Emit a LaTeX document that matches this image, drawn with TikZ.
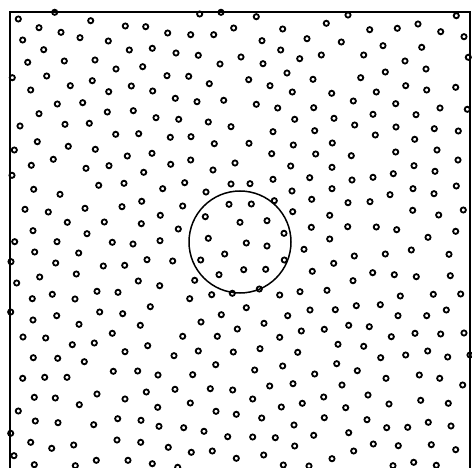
\documentclass[tikz,border=0pt]{standalone}
\tikzset{
  grain/.style={line width=1.8pt},
  frame/.style={line width=2pt},
  probe/.style={draw, circle, line width=1.5pt, minimum size=102pt, inner sep=0pt}
}
\begin{document}
\begin{tikzpicture}[x=1pt,y=-1pt]
\useasboundingbox (0,0) rectangle (472,468);
\draw[frame] (9.5,468) -- (9.5,11.7) -- (469.5,11.7) -- (469.5,468);
\foreach \x/\y in {
  18.3/19,39/27.7,61/32.3,80/37.7,90.7/20.7,125.3/26,145.7/26.7,22.7/40,43.7/49.7,108.3/41,
  129.3/50,152.3/48.3,27.7/62.3,64.3/61,95/60,116/69,142.7/66.7,12.3/77.7,46.7/76,70.3/85.7,
  92.3/80.7,30.7/90,108.7/91.7,131.3/86,152.7/91,57.3/104,82.7/102.7,39/113.7,107.3/112,133.3/110.7,
  156/117.7,20/126,65/124.3,89.3/123.3,115.7/134.3,138.7/133.7,37.3/141.7,68.3/146.3,95.3/149.3,14.3/150,
  53.3/159.3,127.3/156,152/153.3,54.7/12.3,
  348/15,326.3/23.3,369.7/29.7,397.3/28.3,418/24,440.7/31.7,456.3/15.7,464/36.7,341.3/42,383/45.7,
  421.7/47.3,321.3/55,363.7/55,405/61,468.3/57.3,385.3/72,426/69,313/79.3,360.7/77.7,405.7/85.7,
  426.7/90,455.7/87.3,331.7/93.3,376.3/92,353.3/101,395.7/103.7,313.7/107.7,440/108,467.3/109.3,334/118.3,
  373/114.3,416/114.7,354.7/125,396/127,314.7/130.7,434.3/128.7,458.3/131,332.3/143,375.3/135,414.7/139.3,
  315.7/154,351.3/155.7,395.7/152,437/150,458/160,
  199.7/14,221/12.3,256.3/16.7,167.7/33,190.7/34.7,213.7/34.7,233.7/28,262/40.7,282.7/29,307/38.7,
  176/53,198.3/55.3,220/64,241/57,263/63.7,280.7/50,299.7/58.7,167/75.7,188.7/76.3,209.3/83.7,
  248.7/79.7,270/85.7,287/73,292.3/92,175.3/98.3,197/101.7,223.7/100.3,256.3/104.3,277.7/108,178.7/119.3,
  208.3/122,231/126.7,294.7/119.3,273/131.7,170.3/137.3,191/136.7,214.3/143.7,249/143.3,293.3/145,271.7/153.7,
  170.7/164.3,190.7/160,235/163,213/170,290.7/166,
  31.3/165.3,86/168.3,109/165.7,143.7/172.3,12/175.3,33.7/189.3,60/194.3,98.7/185.3,124/183.3,162.7/188.7,
  25/209.3,48.3/212,85/208.3,122/206.7,141.7/201.3,160.3/215.3,67.3/222.3,104.3/222,141.3/223.7,33/230.7,
  87/233.7,14.7/241.7,57/241.7,112.3/242.3,133/244,160/240.7,34.7/252,78.7/253,11/261.7,55.7/263,
  103.3/266,124.7/265.3,147/259.7,39.7/277,76.3/274,16.7/283,138.3/281,159.7/285.7,32.3/298.7,52.3/294.3,
  75/299,97/291.3,118/292.3,150.3/306.7,
  184.7/182.7,206/192,231/184,250/183.7,273/179.3,292/191,182.7/206,229/204.3,251.3/204,274.3/200.7,
  292.7/211.7,205.3/216.7,240/222.3,267/220.7,178.3/229,284/233.3,208.3/238.3,246.3/243,267/246,304/249.3,
  224.7/254,172.7/261,200.7/260,284.3/260,243.7/269.7,265.7/269.3,219/274.7,194.7/280.3,300/291.7,189.7/298.7,
  211.7/294.7,232.3/293.3,259.3/289,279.7/295,246.3/307.7,
  332/167.3,414/165.7,309.7/177.7,352/180,373/177.3,393.3/173.7,435/171.3,332/188.7,311.7/199.3,348/202.7,
  370/201.7,390/194.7,413/188.7,434/193.7,456.3/186,329.7/215.3,412.7/210.3,438.7/215,463.3/210,311.3/227.3,
  347.7/226.7,376.3/227,396.7/229.7,329.7/239,428/237.3,455.7/231.3,354.3/256,385.3/254,411.3/250,449/254.3,
  333.7/263.3,312.3/271.3,353/280.7,372.7/272.7,394.3/274.7,416.3/276.7,450.3/275.7,327/290.3,400.3/296,433.3/294.3,
  460.7/294,310/310,356.3/305.7,380.3/304.7,
  10.7/312,33/320,56.7/315.7,99.7/312,122.7/313.7,79/324.3,140.3/325.3,23/337,45.7/338,72.3/344.7,
  94.3/343,112.3/333.3,147.7/345.7,125/351.7,33.3/357.7,57.7/358.3,84.3/361.7,113.3/371.3,137.7/371,158/375,
  22.7/378.3,44.7/377.3,67/377.3,34.3/397.3,55.3/398,97/394,125/399,146.3/392,157.7/407.3,79.3/404.7,
  18.3/411,35.3/421,58/422.7,93.7/424.7,117.7/418.7,141/420.3,159/426.3,10.7/433.3,30.7/442.3,51.7/448.3,
  73.7/445,117/440,140.7/442.3,14/455.7,34.3/464.7,75.3/465.7,96.3/460.3,128/460.3,152.3/463.7,
  221.3/314.7,201/322,237.3/329,264/323.3,287.7/315.7,182.7/336.3,217.3/336.3,279.7/337.3,301.3/331,174/355.7,
  198.3/351,233.3/352,260/348.7,297.7/352.3,215.7/364.7,254.7/370,282.7/366,192.7/374.7,175/389.3,210.3/388.7,
  232.7/390,269.7/386,293/383.7,252.7/399,190.3/403,216/411.3,236.3/414.3,261.7/418,281.3/407,302.3/403.3,
  183.7/427.7,204/431.3,227.7/436.7,252.7/437,275.3/437.7,294/425,168.3/447.3,191.3/452.3,212.3/451,236.3/458.3,
  263.7/455,294.7/446,177.7/467.3,283.3/465,309/466,
  335.3/309.7,398/315.7,426.7/315.7,446.3/310,324.3/329.3,348.7/325.3,369.3/326.7,391.3/336.7,415/333.3,440.7/334,
  464/333,338/344.3,363.7/346.3,380.7/357.7,405.7/355,427.7/351,447.7/357,470/355,336.7/363.7,357.3/370.7,
  314.7/374,386/378.3,419.3/375,439.7/378.3,462.7/385,342/385,323.7/397,368/395,389/404,420.7/400.3,
  448.3/403.3,345.7/407.7,324.3/417.7,367/419.7,386.7/427.7,407.7/427.3,428.3/422.3,451/426,313.7/435.3,348.7/432.7,
  373.3/444,398.3/445.7,431.3/444.7,455.7/449.7,332/458.7,353.7/451,393/465.7,413.7/462.3,436.3/465.3}
  \draw[grain] (\x,\y) circle[radius=2.6pt];
\node[probe] (probe) at (240,242) {};
\end{tikzpicture}
\end{document}
